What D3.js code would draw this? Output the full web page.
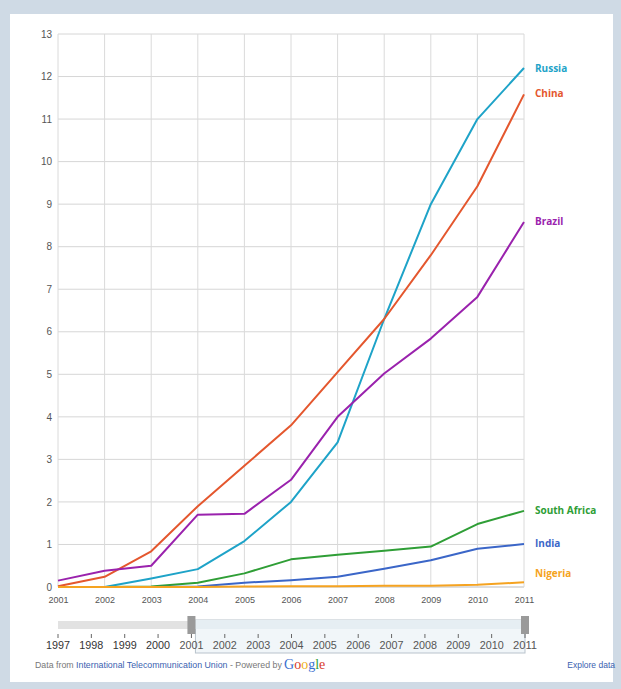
<!DOCTYPE html>
<html>
<head>
<meta charset="utf-8">
<script src="https://cdn.jsdelivr.net/npm/d3@7"></script>
<style>
  html, body { margin: 0; padding: 0; background: #cfdae5; }
  svg { display: block; }
</style>
</head>
<body>
<svg id="chart" width="621" height="689"></svg>
<script>
// Mobile broadband subscriptions per 100 inhabitants, 2001–2011
const years = [2001, 2002, 2003, 2004, 2005, 2006, 2007, 2008, 2009, 2010, 2011];
const russia      = [0, 0, 0.2, 0.42, 1.08, 2.0, 3.4, 6.3, 9.0, 11.0, 12.2];
const china       = [0.02, 0.24, 0.84, 1.9, 2.85, 3.8, 5.05, 6.3, 7.8, 9.42, 11.58];
const brazil      = [0.15, 0.38, 0.5, 1.7, 1.72, 2.52, 4.0, 5.02, 5.84, 6.82, 8.58];
const southAfrica = [0, 0, 0.01, 0.1, 0.32, 0.65, 0.76, 0.85, 0.95, 1.48, 1.79];
const india       = [0, 0, 0, 0.01, 0.1, 0.16, 0.24, 0.43, 0.63, 0.9, 1.01];
const nigeria     = [0, 0, 0, 0, 0.01, 0.02, 0.02, 0.03, 0.03, 0.05, 0.11];
const seriesNames = ["Russia", "China", "Brazil", "South Africa", "India", "Nigeria"];
const seriesColors = ["#1ea3c8", "#e4572e", "#9a22ad", "#2f9e36", "#3b66c8", "#f5a321"];
const yTicks = [0, 1, 2, 3, 4, 5, 6, 7, 8, 9, 10, 11, 12, 13];
const timelineYears = [1997, 1998, 1999, 2000, 2001, 2002, 2003, 2004, 2005, 2006, 2007, 2008, 2009, 2010, 2011];

const seriesValues = [russia, china, brazil, southAfrica, india, nigeria];
const series = seriesNames.map((name, i) => ({ name, color: seriesColors[i], values: seriesValues[i] }));

const svg = d3.select("#chart");
const font = "Arial, 'Liberation Sans', sans-serif";

// panel
svg.append("rect").attr("x", 10).attr("y", 14).attr("width", 603).attr("height", 668)
  .attr("fill", "#ffffff");

const x = d3.scaleLinear().domain([2001, 2011]).range([58, 524]);
const y = d3.scaleLinear().domain([0, 13]).range([587, 34]);

// grid
const grid = svg.append("g");
grid.selectAll("line.h").data(yTicks).join("line")
  .attr("x1", x(2001)).attr("x2", x(2011))
  .attr("y1", d => y(d)).attr("y2", d => y(d))
  .attr("stroke", d => d === 0 ? "#bdbdbd" : "#d6d6d6").attr("stroke-width", 1);
grid.selectAll("line.v").data(years).join("line")
  .attr("x1", d => x(d)).attr("x2", d => x(d))
  .attr("y1", y(13)).attr("y2", y(0))
  .attr("stroke", "#dadada").attr("stroke-width", 1);

// y axis labels
const yAxis = d3.axisLeft(y).tickValues(yTicks).tickSize(0).tickPadding(6);
const yg = svg.append("g").attr("transform", `translate(${x(2001)},0)`).call(yAxis);
yg.select(".domain").remove();
yg.selectAll("text").attr("font-family", font).attr("font-size", 10).attr("fill", "#555");

// x axis labels
const xAxis = d3.axisBottom(x).tickValues(years).tickFormat(d3.format("d")).tickSize(0).tickPadding(10);
const xg = svg.append("g").attr("transform", `translate(0,${y(0)})`).call(xAxis);
xg.select(".domain").remove();
xg.selectAll("text").attr("font-family", font).attr("font-size", 9).attr("fill", "#555");

// lines
const line = d3.line().x((d, i) => x(years[i])).y(d => y(d));
svg.append("g").selectAll("path").data(series).join("path")
  .attr("d", d => line(d.values))
  .attr("fill", "none").attr("stroke", d => d.color)
  .attr("stroke-width", 2).attr("stroke-linejoin", "round");

// end labels
const labelY = { "Russia": 68, "China": 93, "Brazil": 221, "South Africa": 510, "India": 543, "Nigeria": 573 };
svg.append("g").selectAll("text").data(series).join("text")
  .attr("x", 535).attr("y", d => labelY[d.name] + 4)
  .attr("font-family", "'Open Sans', 'DejaVu Sans', sans-serif").attr("font-weight", "bold")
  .attr("font-size", 10).attr("fill", d => d.color).text(d => d.name);

// timeline range control
const t = d3.scaleLinear().domain([1997, 2011]).range([58, 525]);
svg.append("rect").attr("x", t(1997)).attr("y", 621).attr("width", t(2001) - t(1997)).attr("height", 8)
  .attr("fill", "#e2e2e2");
svg.append("rect").attr("x", t(2001) + 4).attr("y", 620).attr("width", t(2011) - t(2001) - 4).attr("height", 33)
  .attr("fill", "#f1f6f9").attr("stroke", "#b9c3cc").attr("stroke-width", 1);
svg.append("rect").attr("x", t(2001) + 4).attr("y", 620).attr("width", t(2011) - t(2001) - 4).attr("height", 9)
  .attr("fill", "#e6eef3");
[2001, 2011].forEach(yr => {
  svg.append("rect").attr("x", t(yr) - 4).attr("y", 616).attr("width", 8).attr("height", 18)
    .attr("fill", "#9a9a9a");
});
const tl = svg.append("g");
tl.selectAll("line").data(timelineYears).join("line")
  .attr("x1", d => t(d)).attr("x2", d => t(d)).attr("y1", 634).attr("y2", 638)
  .attr("stroke", "#666").attr("stroke-width", 1);
tl.selectAll("text").data(timelineYears).join("text")
  .attr("x", d => t(d)).attr("y", 649).attr("text-anchor", "middle")
  .attr("font-family", font).attr("font-size", 11).attr("fill", d => d <= 2000 ? "#333" : "#555")
  .attr("textLength", 24).attr("lengthAdjust", "spacingAndGlyphs")
  .text(d => d);

// footer
const footer = svg.append("text").attr("x", 35).attr("y", 668)
  .attr("font-family", font).attr("font-size", 8.8);
footer.append("tspan").attr("fill", "#777").text("Data from ");
footer.append("tspan").attr("fill", "#3a5fb0").text("International Telecommunication Union");
footer.append("tspan").attr("fill", "#777").text(" - Powered by ");
const g = svg.append("text").attr("x", 284).attr("y", 669)
  .attr("font-family", "'Liberation Serif', 'DejaVu Serif', serif").attr("font-size", 14);
[["G", "#3b6fd0"], ["o", "#d93b2b"], ["o", "#f0b020"], ["g", "#3b6fd0"], ["l", "#2f9e36"], ["e", "#d93b2b"]]
  .forEach(([c, col]) => g.append("tspan").attr("fill", col).text(c));
svg.append("text").attr("x", 615).attr("y", 668).attr("text-anchor", "end")
  .attr("font-family", font).attr("font-size", 8.5).attr("fill", "#3a5fb0").text("Explore data");
</script>
</body>
</html>
